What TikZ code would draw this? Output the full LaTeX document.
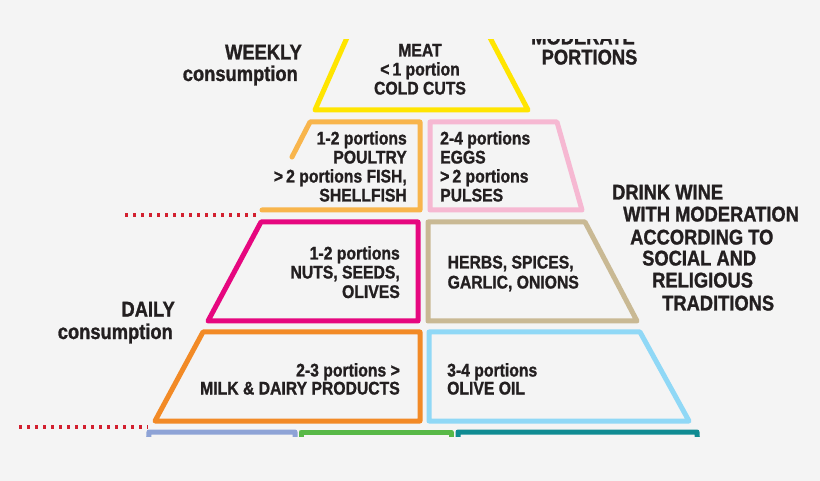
\documentclass[tikz,border=0pt]{standalone}
\usepackage{fontspec}
\newfontfamily\cond[FakeStretch=0.86,FakeBold=1.2]{Liberation Sans Bold}
\definecolor{bg}{HTML}{F4F4F4}
\definecolor{ink}{HTML}{231F20}
\definecolor{cyellow}{HTML}{FFE500}
\definecolor{clorange}{HTML}{F8B54C}
\definecolor{cpink}{HTML}{F6B8D2}
\definecolor{cmagenta}{HTML}{E6077F}
\definecolor{cbeige}{HTML}{C9B994}
\definecolor{corange}{HTML}{F28A26}
\definecolor{cblue}{HTML}{90D8F6}
\definecolor{clav}{HTML}{8EA3D6}
\definecolor{cgreen}{HTML}{58B847}
\definecolor{cteal}{HTML}{0F8B92}
\definecolor{cred}{HTML}{D2202F}
\tikzset{
  body/.style={font=\cond\fontsize{18.3}{19}\selectfont, text=ink, inner sep=0pt},
  head/.style={font=\cond\fontsize{21.3}{22}\selectfont, text=ink, inner sep=0pt},
  tier/.style={line width=5pt, line join=round, line cap=round},
  dotline/.style={cred, line width=3.2pt, dash pattern=on 3.2pt off 4.8pt},
}
\begin{document}
\begin{tikzpicture}[x=1pt,y=-1pt]
\fill[bg] (0,0) rectangle (820,481);
\useasboundingbox (0,0) rectangle (820,481);
\begin{scope}
\clip (0,40) rectangle (820,436);
% tiers
\draw[tier, cyellow] (352.6,25) -- (315,110) -- (528,110) -- (483.3,25);
\draw[tier, clorange] (292,157) -- (310,122) -- (420,122) -- (420,210) -- (262,210);
\draw[tier, cpink] (430,122) -- (557,122) -- (582,210) -- (430,210) -- cycle;
\draw[tier, cmagenta] (261,222) -- (418,222) -- (418,321) -- (208,321) -- cycle;
\draw[tier, cbeige] (428,222) -- (585,222) -- (637,321) -- (428,321) -- cycle;
\draw[tier, corange] (203,332) -- (420,332) -- (420,421) -- (155,421) -- cycle;
\draw[tier, cblue] (429,332) -- (640,332) -- (689,421) -- (429,421) -- cycle;
\draw[tier, clav] (147,470) -- (149,432) -- (295,432) -- (295,470);
\draw[tier, cgreen] (301,470) -- (301,432) -- (451,432) -- (451,470);
\draw[tier, cteal] (458,470) -- (458,432) -- (697,432) -- (699,470);
% dotted separators
\coordinate (d1a) at (125,215);
\coordinate (d1b) at (260,215);
\coordinate (d2a) at (19,427);
\coordinate (d2b) at (148,427);
\draw[dotline] (d1a) -- (d1b);
\draw[dotline] (d2a) -- (d2b);
% side headings
\node[head, anchor=base east] (wk1) at (302,59.5) {WEEKLY};
\node[head, anchor=base east] (wk2) at (298,81) {consumption};
\node[head, anchor=base] (mp1) at (583,44.5) {MODERATE};
\node[head, anchor=base] (mp2) at (589.5,64.5) {PORTIONS};
\node[head, anchor=base east] (dy1) at (175,316.5) {DAILY};
\node[head, anchor=base east] (dy2) at (173,339) {consumption};
\node[head, anchor=base west] (w1) at (612,199.5) {DRINK WINE};
\node[head, anchor=base west] (w2) at (623,221.5) {WITH MODERATION};
\node[head, anchor=base west] (w3) at (630,244.5) {ACCORDING TO};
\node[head, anchor=base west] (w4) at (642,265.5) {SOCIAL AND};
\node[head, anchor=base west] (w5) at (652,287.5) {RELIGIOUS};
\node[head, anchor=base west] (w6) at (662,310.5) {TRADITIONS};
% top tier
\node[body, anchor=base] (m1) at (420,56.5) {MEAT};
\node[body, anchor=base] (m2) at (420,75.5) {<\,1 portion};
\node[body, anchor=base] (m3) at (420,94.5) {COLD CUTS};
% second tier
\node[body, anchor=base east] (p1) at (407,144.5) {1-2 portions};
\node[body, anchor=base east] (p2) at (407,163.5) {POULTRY};
\node[body, anchor=base east] (p3) at (407,182.5) {>\,2 portions FISH,};
\node[body, anchor=base east] (p4) at (407,201.5) {SHELLFISH};
\node[body, anchor=base west] (e1) at (440,144.5) {2-4 portions};
\node[body, anchor=base west] (e2) at (440,163.5) {EGGS};
\node[body, anchor=base west] (e3) at (440,182.5) {>\,2 portions};
\node[body, anchor=base west] (e4) at (440,201.5) {PULSES};
% third tier
\node[body, anchor=base east] (n1) at (400,259.5) {1-2 portions};
\node[body, anchor=base east] (n2) at (400,278.5) {NUTS, SEEDS,};
\node[body, anchor=base east] (n3) at (400,298) {OLIVES};
\node[body, anchor=base west] (h1) at (447.5,268.5) {HERBS, SPICES,};
\node[body, anchor=base west] (h2) at (447.5,288.5) {GARLIC, ONIONS};
% fourth tier
\node[body, anchor=base east] (k1) at (400,376.5) {2-3 portions >};
\node[body, anchor=base east] (k2) at (400,394.5) {MILK \& DAIRY PRODUCTS};
\node[body, anchor=base west] (o1) at (447,376.5) {3-4 portions};
\node[body, anchor=base west] (o2) at (447,394.5) {OLIVE OIL};
\end{scope}
\end{tikzpicture}
\end{document}
